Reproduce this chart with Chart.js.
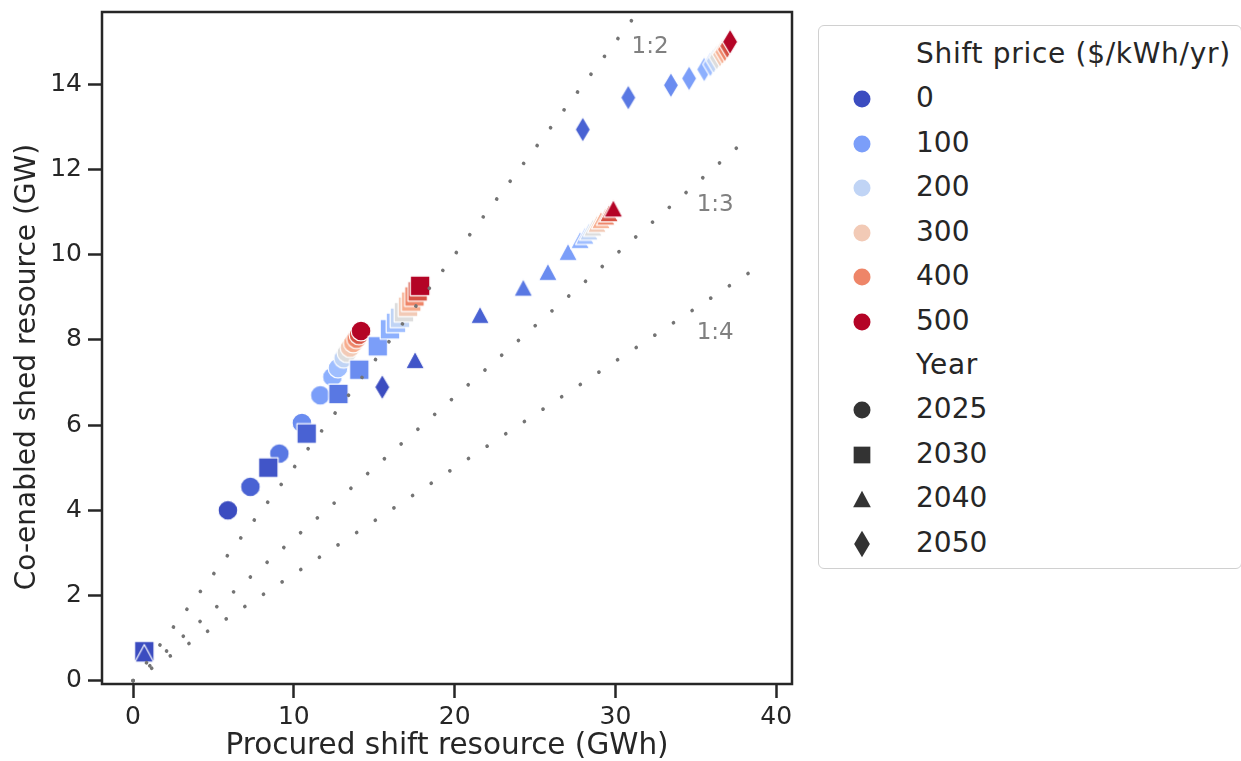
<!DOCTYPE html>
<html>
<head>
<meta charset="utf-8">
<script src="https://cdn.jsdelivr.net/npm/chart.js@4.4.0/dist/chart.umd.min.js"></script>
<style>
html,body{margin:0;padding:0;background:#fff;width:1241px;height:761px;overflow:hidden;font-family:"DejaVu Sans",sans-serif;}
#wrap{position:relative;width:1241px;height:761px;}
#c{position:absolute;left:0;top:0;}
#legendBox{position:absolute;left:818px;top:25px;width:424px;height:544px;box-sizing:border-box;border:1.8px solid #d0d0d0;border-radius:6px;background:#fff;}
.lrow{position:absolute;left:916px;height:40px;line-height:40px;font-size:28px;color:#262626;white-space:nowrap;}
.lrow.head{letter-spacing:0.7px;}
.lmark{position:absolute;}
</style>
</head>
<body>
<div id="wrap">
  <canvas id="c" width="1241" height="761"></canvas>
  <div id="legendBox"></div>
</div>
<script>
// ---------------- data ----------------
const yearLabels = ['2025', '2030', '2040', '2050'];
const legendPrices = [0, 100, 200, 300, 400, 500];
const xTickValues = [0, 10, 20, 30, 40];
const yTickValues = [0, 2, 4, 6, 8, 10, 12, 14];

const price2025 = [0, 25, 50, 75, 100, 125, 150, 200, 250, 300, 350, 400, 450, 500];
const shift2025 = [5.9, 7.3, 9.1, 10.5, 11.65, 12.4, 12.75, 13.1, 13.3, 13.5, 13.7, 13.9, 14.05, 14.18];
const shed2025  = [4.0, 4.55, 5.33, 6.05, 6.7, 7.13, 7.34, 7.57, 7.7, 7.82, 7.93, 8.03, 8.12, 8.21];

const price2030 = [0, 10, 25, 50, 75, 100, 125, 150, 200, 250, 300, 350, 400, 450, 500];
const shift2030 = [0.7, 8.41, 10.8, 12.77, 14.07, 15.22, 15.98, 16.35, 16.6, 16.85, 17.1, 17.3, 17.5, 17.7, 17.85];
const shed2030  = [0.69, 5.0, 5.8, 6.73, 7.3, 7.85, 8.25, 8.4, 8.52, 8.65, 8.78, 8.9, 9.02, 9.14, 9.27];

const price2040 = [0, 10, 25, 50, 75, 100, 125, 150, 200, 250, 300, 350, 400, 450, 500];
const shift2040 = [0.7, 17.54, 21.58, 24.27, 25.8, 27.05, 27.8, 28.1, 28.35, 28.6, 28.85, 29.1, 29.4, 29.6, 29.87];
const shed2040  = [0.64, 7.53, 8.59, 9.23, 9.6, 10.07, 10.35, 10.45, 10.55, 10.64, 10.73, 10.82, 10.9, 10.98, 11.09];

const price2050 = [0, 25, 50, 75, 100, 125, 150, 200, 250, 300, 350, 400, 450, 500];
const shift2050 = [15.5, 27.97, 30.8, 33.45, 34.58, 35.52, 35.9, 36.1, 36.3, 36.5, 36.65, 36.8, 36.95, 37.13];
const shed2050  = [6.89, 12.94, 13.69, 13.98, 14.14, 14.35, 14.47, 14.55, 14.63, 14.7, 14.76, 14.82, 14.9, 15.0];

const ratioNames = ['1:2', '1:3', '1:4'];
const ratioLineShift = [[0, 31.0], [0, 38.5], [0, 38.5]];
const ratioLineShed  = [[0, 15.5], [0, 12.83], [0, 9.625]];

// ---------------- styling ----------------
const INK = '#262626';
const FONT = "'DejaVu Sans', sans-serif";
const COOLWARM = [[59,76,192],[68,90,204],[77,104,215],[87,117,225],[98,130,234],[108,142,241],[119,154,247],[130,165,251],[141,176,254],[152,185,255],[163,194,255],[174,201,253],[184,208,249],[194,213,244],[204,217,238],[213,219,230],[221,221,221],[229,216,209],[236,211,197],[241,204,184],[245,196,172],[247,187,159],[247,177,147],[247,166,134],[244,154,123],[241,141,111],[236,127,99],[229,112,89],[222,96,77],[213,80,66],[203,62,56],[192,40,47],[180,4,38]];
function coolwarm(t) {
  t = Math.max(0, Math.min(1, t));
  const f = t * 32, i = Math.min(31, Math.floor(f)), u = f - i;
  const a = COOLWARM[i], b = COOLWARM[i + 1];
  const c = a.map((v, k) => Math.round(v + (b[k] - v) * u));
  return `rgb(${c[0]},${c[1]},${c[2]})`;
}
const priceNorm = p => p / 500;

const markerCache = {};
function marker(shape, color) {
  const key = shape + '|' + color;
  if (markerCache[key]) return markerCache[key];
  const dims = {circle: [24, 24], square: [24, 24], triangle: [24, 24], diamond: [20, 30]}[shape];
  const c = document.createElement('canvas');
  c.width = dims[0]; c.height = dims[1];
  const g = c.getContext('2d');
  const cx = c.width / 2, cy = c.height / 2;
  g.beginPath();
  if (shape === 'circle') g.arc(cx, cy, 9.9, 0, Math.PI * 2);
  else if (shape === 'square') g.rect(cx - 9.8, cy - 9.8, 19.6, 19.6);
  else if (shape === 'triangle') { g.moveTo(cx, cy - 8.8); g.lineTo(cx + 9.4, cy + 8.8); g.lineTo(cx - 9.4, cy + 8.8); g.closePath(); }
  else { g.moveTo(cx, cy - 12.8); g.lineTo(cx + 7.6, cy); g.lineTo(cx, cy + 12.8); g.lineTo(cx - 7.6, cy); g.closePath(); }
  g.fillStyle = color; g.fill();
  g.lineWidth = 1.2; g.strokeStyle = '#ffffff'; g.lineJoin = 'round'; g.stroke();
  markerCache[key] = c;
  return c;
}

function yearDataset(label, shape, prices, xs, ys, order) {
  return {
    type: 'scatter',
    label: label,
    order: order,
    data: xs.map((x, i) => ({x: x, y: ys[i]})),
    pointStyle: prices.map(p => marker(shape, coolwarm(priceNorm(p)))),
    pointRadius: 12,
    pointHoverRadius: 12,
    backgroundColor: prices.map(p => coolwarm(priceNorm(p))),
    borderWidth: 0
  };
}

function ratioDataset(i) {
  return {
    type: 'line',
    label: ratioNames[i],
    order: 0,
    data: ratioLineShift[i].map((x, k) => ({x: x, y: ratioLineShed[i][k]})),
    borderColor: '#747474',
    borderWidth: 3.7,
    borderDash: [0.01, 22.34],
    borderCapStyle: 'round',
    pointRadius: 0,
    fill: false,
    tension: 0
  };
}

const ratioLabelAnchor = [{x: 31.0, y: 14.88}, {x: 35.05, y: 11.17}, {x: 35.05, y: 8.17}];

const ratioLabelPlugin = {
  id: 'ratioLabels',
  afterDatasetsDraw(chart) {
    const {ctx, scales: {x, y}} = chart;
    ctx.save();
    ctx.font = "23px 'DejaVu Sans'";
    ctx.fillStyle = '#808080';
    ctx.textAlign = 'left';
    ctx.textBaseline = 'middle';
    ratioNames.forEach((t, i) => {
      ctx.fillText(t, x.getPixelForValue(ratioLabelAnchor[i].x), y.getPixelForValue(ratioLabelAnchor[i].y));
    });
    ctx.restore();
  }
};

const yTitleText = 'Co-enabled shed resource (GW)';
const yTitlePlugin = {
  id: 'yTitle',
  afterDraw(chart) {
    const {ctx, chartArea: a} = chart;
    ctx.save();
    ctx.font = "28px 'DejaVu Sans'";
    ctx.fillStyle = INK;
    ctx.textAlign = 'center';
    ctx.textBaseline = 'middle';
    ctx.translate(27.5, (a.top + a.bottom) / 2 + 19);
    ctx.rotate(-Math.PI / 2);
    ctx.fillText(yTitleText, 0, 0);
    ctx.restore();
  }
};

const spinePlugin = {
  id: 'spines',
  afterDraw(chart) {
    const {ctx, chartArea: a} = chart;
    ctx.save();
    ctx.strokeStyle = INK;
    ctx.lineWidth = 2.5;
    ctx.strokeRect(a.left, a.top, a.right - a.left, a.bottom - a.top);
    ctx.restore();
  }
};

Chart.defaults.font.family = FONT;
Chart.defaults.color = INK;

new Chart(document.getElementById('c'), {
  type: 'scatter',
  data: {
    datasets: [
      yearDataset(yearLabels[0], 'circle', price2025, shift2025, shed2025, 4),
      yearDataset(yearLabels[1], 'square', price2030, shift2030, shed2030, 3),
      yearDataset(yearLabels[2], 'triangle', price2040, shift2040, shed2040, 2),
      yearDataset(yearLabels[3], 'diamond', price2050, shift2050, shed2050, 1),
      ratioDataset(0), ratioDataset(1), ratioDataset(2)
    ]
  },
  options: {
    responsive: false,
    animation: false,
    devicePixelRatio: 1,
    events: [],
    layout: {padding: {left: 0, top: 12, right: 449, bottom: 0}},
    plugins: {legend: {display: false}, tooltip: {enabled: false}},
    scales: {
      x: {
        type: 'linear', min: -1.93, max: 40.98,
        afterBuildTicks: s => { s.ticks = xTickValues.map(v => ({value: v})); },
        afterFit: s => { s.height = 77; s.paddingLeft = 0; s.paddingRight = 0; },
        ticks: {font: {size: 25}, color: INK, padding: 4, maxRotation: 0, autoSkip: false, callback: v => String(v)},
        grid: {display: true, drawOnChartArea: false, drawTicks: true, tickLength: 14, tickWidth: 2.5, tickColor: INK},
        border: {display: false},
        title: {display: true, text: 'Procured shift resource (GWh)', color: INK, font: {size: 29.5, lineHeight: 1}, padding: {top: 0, bottom: 0}}
      },
      y: {
        type: 'linear', min: -0.08, max: 15.7,
        afterBuildTicks: s => { s.ticks = yTickValues.map(v => ({value: v})); },
        afterFit: s => { s.width = 102; s.paddingTop = 0; s.paddingBottom = 0; },
        ticks: {font: {size: 25}, color: INK, padding: 6, autoSkip: false, callback: v => String(v)},
        grid: {display: true, drawOnChartArea: false, drawTicks: true, tickLength: 14, tickWidth: 2.5, tickColor: INK},
        border: {display: false},
        title: {display: false}
      }
    }
  },
  plugins: [ratioLabelPlugin, spinePlugin, yTitlePlugin]
});

// ---------------- legend (HTML) ----------------
(function buildLegend() {
  const wrap = document.getElementById('wrap');
  const rowY = i => 53.3 + 44.45 * i;
  const markY = i => 54.8 + 44.45 * i;
  const markX = 862;
  function addText(txt, i, head) {
    const d = document.createElement('div');
    d.className = 'lrow' + (head ? ' head' : '');
    d.style.top = (rowY(i) - 20 + 0.5) + 'px';
    d.textContent = txt;
    wrap.appendChild(d);
  }
  function addMark(svgInner, w, h, i) {
    const d = document.createElement('div');
    d.className = 'lmark';
    d.style.left = (markX - w / 2) + 'px';
    d.style.top = (markY(i) - h / 2) + 'px';
    d.innerHTML = `<svg width="${w}" height="${h}" viewBox="0 0 ${w} ${h}">${svgInner}</svg>`;
    wrap.appendChild(d);
  }
  addText('Shift price ($/kWh/yr)', 0, true);
  legendPrices.forEach((p, k) => {
    addText(String(p), k + 1, false);
    addMark(`<circle cx="10" cy="10" r="8.5" fill="${coolwarm(priceNorm(p))}"/>`, 20, 20, k + 1);
  });
  addText('Year', 7, true);
  const dark = '#333333';
  const shapes = [
    [`<circle cx="10" cy="10" r="8.5" fill="${dark}"/>`, 20, 20],
    [`<rect x="1.65" y="1.65" width="16.7" height="16.7" fill="${dark}"/>`, 20, 20],
    [`<polygon points="10,1.65 18.85,18.35 1.15,18.35" fill="${dark}"/>`, 20, 20],
    [`<polygon points="10,1.65 17.85,15 10,28.35 2.15,15" fill="${dark}"/>`, 20, 30]
  ];
  yearLabels.forEach((y, k) => {
    addText(y, 8 + k, false);
    addMark(shapes[k][0], shapes[k][1], shapes[k][2], 8 + k);
  });
})();
</script>
</body>
</html>
